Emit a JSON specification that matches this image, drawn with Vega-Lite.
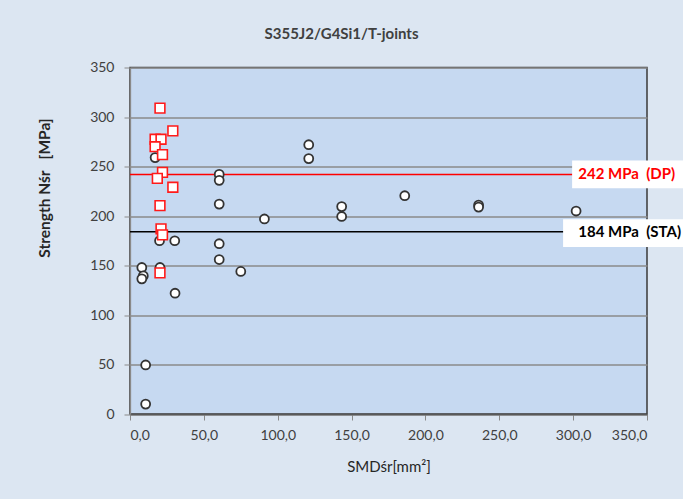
{
  "$schema": "https://vega.github.io/schema/vega-lite/v6.json",
  "width": 517,
  "height": 346.5,
  "autosize": {"type": "none"},
  "padding": {"left": 130, "top": 67.5, "right": 36, "bottom": 85},
  "background": "#dce6f2",
  "config": {
    "font": "Lato",
    "view": {"fill": "#c6d9f1", "stroke": "#3a3a3a", "strokeWidth": 1.5}
  },
  "title": {
    "text": "S355J2/G4Si1/T-joints",
    "fontSize": 15,
    "fontWeight": "bold",
    "color": "#404040",
    "anchor": "middle",
    "dx": -47,
    "offset": 19
  },
  "datasets": {
    "pts": [
      {"s": 8, "n": 148, "type": "STA"},
      {"s": 9, "n": 139.5, "type": "STA"},
      {"s": 8, "n": 136.5, "type": "STA"},
      {"s": 10.6, "n": 49.5, "type": "STA"},
      {"s": 10.6, "n": 10, "type": "STA"},
      {"s": 20.3, "n": 148, "type": "STA"},
      {"s": 30.5, "n": 122, "type": "STA"},
      {"s": 20, "n": 175, "type": "STA"},
      {"s": 30.3, "n": 175, "type": "STA"},
      {"s": 17, "n": 259, "type": "STA"},
      {"s": 60.4, "n": 242, "type": "STA"},
      {"s": 60.4, "n": 236, "type": "STA"},
      {"s": 60.4, "n": 212, "type": "STA"},
      {"s": 60.4, "n": 172, "type": "STA"},
      {"s": 60.4, "n": 156, "type": "STA"},
      {"s": 75, "n": 144, "type": "STA"},
      {"s": 91, "n": 197, "type": "STA"},
      {"s": 121, "n": 272, "type": "STA"},
      {"s": 121, "n": 258, "type": "STA"},
      {"s": 143.3, "n": 209.5, "type": "STA"},
      {"s": 143.3, "n": 199.5, "type": "STA"},
      {"s": 186, "n": 220.5, "type": "STA"},
      {"s": 236, "n": 211, "type": "STA"},
      {"s": 236, "n": 209, "type": "STA"},
      {"s": 302, "n": 205, "type": "STA"},
      {"s": 20.3, "n": 309, "type": "DP"},
      {"s": 29, "n": 286, "type": "DP"},
      {"s": 17, "n": 277.5, "type": "DP"},
      {"s": 21, "n": 277.5, "type": "DP"},
      {"s": 17, "n": 270, "type": "DP"},
      {"s": 22, "n": 262, "type": "DP"},
      {"s": 22, "n": 244, "type": "DP"},
      {"s": 18.5, "n": 238, "type": "DP"},
      {"s": 29, "n": 229, "type": "DP"},
      {"s": 20.3, "n": 210.5, "type": "DP"},
      {"s": 21, "n": 187, "type": "DP"},
      {"s": 22, "n": 181, "type": "DP"},
      {"s": 20.3, "n": 142.5, "type": "DP"}
    ],
    "refs": [
      {"kind": "DP", "value": 242, "label": "242 MPa\u00a0 (DP)"},
      {"kind": "STA", "value": 184, "label": "184 MPa\u00a0 (STA)"}
    ]
  },
  "layer": [
    {
      "data": {"name": "refs"},
      "mark": {"type": "rule", "strokeWidth": 1.5},
      "encoding": {
        "y": {
          "field": "value",
          "type": "quantitative",
          "scale": {"domain": [0, 350], "nice": false, "zero": true},
          "axis": {
            "values": [0, 50, 100, 150, 200, 250, 300, 350],
            "grid": true,
            "gridColor": "#8a8a8a",
            "gridWidth": 1.3,
            "domainColor": "#8a8a8a",
            "domainWidth": 1.3,
            "tickColor": "#8a8a8a",
            "tickSize": 6,
            "labelFontSize": 14,
            "labelColor": "#404040",
            "labelPadding": 10,
            "title": "Strength Nśr\u00a0\u00a0 [MPa]",
            "titleFontSize": 15.5,
            "titleFontWeight": "bold",
            "titleColor": "#262626",
            "titleAngle": -90,
            "titleBaseline": "middle",
            "titleX": -86,
            "titleY": 120
          }
        },
        "color": {
          "field": "kind",
          "type": "nominal",
          "scale": {"domain": ["DP", "STA"], "range": ["#ff0000", "#000000"]},
          "legend": null
        }
      }
    },
    {
      "data": {"name": "pts"},
      "transform": [{"filter": "datum.type === 'STA'"}],
      "mark": {"type": "point", "shape": "circle", "filled": false, "fill": "#ffffff", "fillOpacity": 1, "stroke": "#333333", "strokeWidth": 1.8, "size": 80, "opacity": 1},
      "encoding": {
        "x": {
          "field": "s",
          "type": "quantitative",
          "scale": {"domain": [0, 350], "nice": false},
          "axis": {
            "values": [0, 50, 100, 150, 200, 250, 300, 350],
            "labelExpr": "replace(format(datum.value, '.1f'), '.', ',')",
            "grid": false,
            "domainColor": "#595959",
            "domainWidth": 1.5,
            "tickColor": "#8a8a8a",
            "tickSize": 6,
            "labelFontSize": 14,
            "labelColor": "#404040",
            "labelPadding": 8,
            "title": "SMDśr[mm²]",
            "titleFontSize": 15,
            "titleFontWeight": "normal",
            "titleColor": "#262626",
            "titlePadding": 17
          }
        },
        "y": {"field": "n", "type": "quantitative"}
      }
    },
    {
      "data": {"name": "pts"},
      "transform": [{"filter": "datum.type === 'DP'"}],
      "mark": {"type": "point", "shape": "square", "filled": false, "fill": "#ffffff", "fillOpacity": 1, "stroke": "#ff1a1a", "strokeWidth": 1.6, "size": 95, "opacity": 1},
      "encoding": {
        "x": {"field": "s", "type": "quantitative"},
        "y": {"field": "n", "type": "quantitative"}
      }
    },
    {
      "data": {"name": "refs"},
      "transform": [{"filter": "datum.kind === 'DP'"}],
      "mark": {"type": "rect", "fill": "#ffffff"},
      "encoding": {
        "x": {"datum": 299.3},
        "x2": {"datum": 400},
        "y": {"datum": 256},
        "y2": {"datum": 228}
      }
    },
    {
      "data": {"name": "refs"},
      "transform": [{"filter": "datum.kind === 'STA'"}],
      "mark": {"type": "rect", "fill": "#ffffff"},
      "encoding": {
        "x": {"datum": 293.2},
        "x2": {"datum": 400},
        "y": {"datum": 196.7},
        "y2": {"datum": 168.7}
      }
    },
    {
      "data": {"name": "refs"},
      "mark": {"type": "text", "align": "left", "baseline": "middle", "fontSize": 15, "fontWeight": "bold"},
      "encoding": {
        "x": {"datum": 303.5},
        "y": {"field": "value", "type": "quantitative"},
        "text": {"field": "label"},
        "color": {"field": "kind", "type": "nominal", "legend": null}
      }
    }
  ]
}
